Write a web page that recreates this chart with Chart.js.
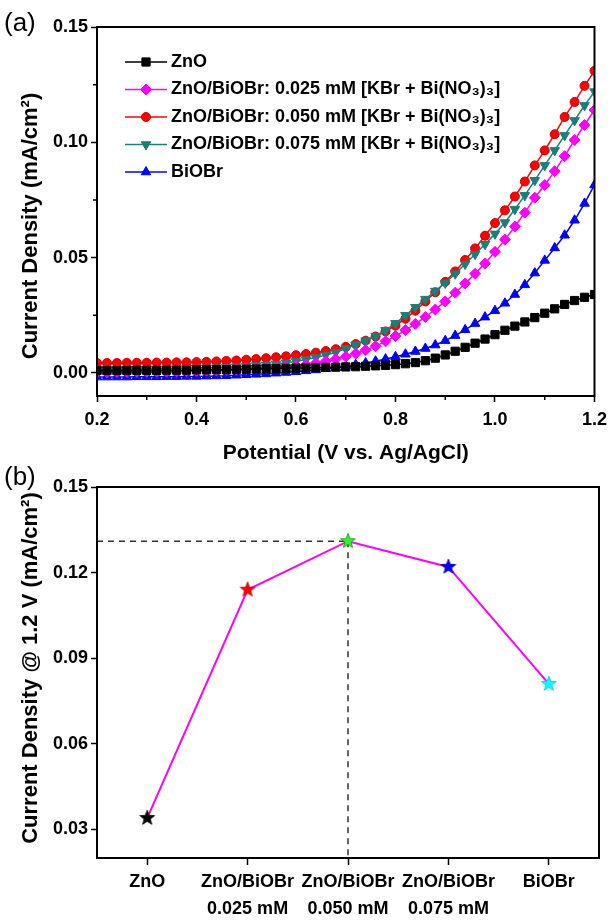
<!DOCTYPE html>
<html>
<head>
<meta charset="utf-8">
<script src="https://cdn.jsdelivr.net/npm/chart.js@4.4.1/dist/chart.umd.min.js"></script>
<style>
  html, body { margin: 0; padding: 0; background: #fff; }
  #chartA { position: absolute; left: 0; top: 0; }
  #chartB { position: absolute; left: 0; top: 466px; }
</style>
</head>
<body>
<canvas id="chartA" width="614" height="466"></canvas>
<canvas id="chartB" width="614" height="454"></canvas>
<script>
// ───────── panel (a): LSV curves ─────────
const potential = [0.20, 0.22, 0.24, 0.26, 0.28, 0.30, 0.32, 0.34, 0.36, 0.38,
  0.40, 0.42, 0.44, 0.46, 0.48, 0.50, 0.52, 0.54, 0.56, 0.58,
  0.60, 0.62, 0.64, 0.66, 0.68, 0.70, 0.72, 0.74, 0.76, 0.78,
  0.80, 0.82, 0.84, 0.86, 0.88, 0.90, 0.92, 0.94, 0.96, 0.98,
  1.00, 1.02, 1.04, 1.06, 1.08, 1.10, 1.12, 1.14, 1.16, 1.18, 1.20];

const znoCurve = [0.0010, 0.0010, 0.0010, 0.0010, 0.0011, 0.0011, 0.0011, 0.0012, 0.0012, 0.0012,
  0.0013, 0.0013, 0.0014, 0.0014, 0.0015, 0.0016, 0.0017, 0.0018, 0.0019, 0.0020,
  0.0021, 0.0022, 0.0023, 0.0024, 0.0025, 0.0026, 0.0027, 0.0029, 0.0031, 0.0033,
  0.0036, 0.0040, 0.0045, 0.0053, 0.0064, 0.0078, 0.0094, 0.0111, 0.0129, 0.0147,
  0.0166, 0.0185, 0.0203, 0.0221, 0.0240, 0.0259, 0.0278, 0.0297, 0.0314, 0.0328, 0.0340];

const bi025Curve = [0.0003, 0.0003, 0.0004, 0.0004, 0.0005, 0.0005, 0.0006, 0.0006, 0.0007, 0.0008,
  0.0009, 0.0010, 0.0011, 0.0013, 0.0015, 0.0017, 0.0019, 0.0021, 0.0024, 0.0027,
  0.0031, 0.0036, 0.0043, 0.0051, 0.0060, 0.0071, 0.0084, 0.0099, 0.0116, 0.0137,
  0.0160, 0.0186, 0.0213, 0.0243, 0.0275, 0.0310, 0.0348, 0.0388, 0.0430, 0.0475,
  0.0525, 0.0578, 0.0635, 0.0695, 0.0760, 0.0815, 0.0875, 0.0940, 0.1010, 0.1075, 0.1140];

const bi050Curve = [0.0043, 0.0043, 0.0043, 0.0044, 0.0044, 0.0044, 0.0045, 0.0045, 0.0046, 0.0046,
  0.0047, 0.0048, 0.0050, 0.0052, 0.0054, 0.0057, 0.0060, 0.0064, 0.0068, 0.0072,
  0.0077, 0.0082, 0.0088, 0.0095, 0.0103, 0.0113, 0.0125, 0.0140, 0.0158, 0.0180,
  0.0205, 0.0235, 0.0270, 0.0310, 0.0350, 0.0395, 0.0440, 0.0490, 0.0540, 0.0595,
  0.0650, 0.0705, 0.0765, 0.0830, 0.0900, 0.0965, 0.1035, 0.1110, 0.1175, 0.1245, 0.1310];

const bi075Curve = [0.0015, 0.0015, 0.0015, 0.0016, 0.0016, 0.0017, 0.0017, 0.0018, 0.0019, 0.0020,
  0.0021, 0.0022, 0.0023, 0.0025, 0.0027, 0.0029, 0.0032, 0.0035, 0.0039, 0.0044,
  0.0050, 0.0058, 0.0067, 0.0078, 0.0090, 0.0106, 0.0122, 0.0140, 0.0160, 0.0185,
  0.0215, 0.0250, 0.0285, 0.0320, 0.0355, 0.0390, 0.0430, 0.0472, 0.0515, 0.0558,
  0.0603, 0.0652, 0.0710, 0.0770, 0.0835, 0.0900, 0.0965, 0.1030, 0.1095, 0.1160, 0.1220];

const biobrCurve = [-0.0018, -0.0018, -0.0018, -0.0018, -0.0017, -0.0017, -0.0017, -0.0016, -0.0016, -0.0015,
  -0.0015, -0.0014, -0.0013, -0.0012, -0.0010, -0.0008, -0.0006, -0.0004, -0.0001, 0.0002,
  0.0005, 0.0009, 0.0013, 0.0018, 0.0023, 0.0029, 0.0036, 0.0043, 0.0051, 0.0060,
  0.0070, 0.0081, 0.0093, 0.0106, 0.0121, 0.0140, 0.0162, 0.0187, 0.0214, 0.0242,
  0.0270, 0.0302, 0.0340, 0.0382, 0.0433, 0.0488, 0.0542, 0.0597, 0.0662, 0.0735, 0.0815];

const seriesNames = [
  'ZnO',
  'ZnO/BiOBr: 0.025 mM [KBr + Bi(NO₃)₃]',
  'ZnO/BiOBr: 0.050 mM [KBr + Bi(NO₃)₃]',
  'ZnO/BiOBr: 0.075 mM [KBr + Bi(NO₃)₃]',
  'BiOBr'
];
const xTicksA = [0.2, 0.4, 0.6, 0.8, 1.0, 1.2];
const yTicksA = [0.00, 0.05, 0.10, 0.15];

// ───────── panel (b): current density @ 1.2 V ─────────
const samples = [['ZnO'], ['ZnO/BiOBr', '0.025 mM'], ['ZnO/BiOBr', '0.050 mM'], ['ZnO/BiOBr', '0.075 mM'], ['BiOBr']];
const jAt12 = [0.034, 0.114, 0.131, 0.122, 0.081];
const yTicksB = [0.03, 0.06, 0.09, 0.12, 0.15];

// ───────── helpers ─────────
const FONT = "'Liberation Sans', Arial, Helvetica, sans-serif";
const tickFont = { family: FONT, size: 18, weight: 'bold' };
const titleFont = { family: FONT, size: 21, weight: 'bold' };

const toXY = arr => arr.map((v, i) => ({ x: potential[i], y: v }));
const midpoints = arr => arr.slice(1).map((v, i) => (v + arr[i]) / 2);

// box round the plot area + short minor ticks
function frame(minorX, minorY) {
  return {
    id: 'frame',
    afterDraw(chart) {
      const { ctx, chartArea: a, scales } = chart;
      ctx.save();
      ctx.strokeStyle = '#000';
      ctx.lineWidth = 1.5;
      ctx.beginPath();
      minorX.forEach(v => {
        const px = scales.x.getPixelForValue(v);
        ctx.moveTo(px, a.bottom); ctx.lineTo(px, a.bottom + 4);
      });
      minorY.forEach(v => {
        const py = scales.y.getPixelForValue(v);
        ctx.moveTo(a.left, py); ctx.lineTo(a.left - 4, py);
      });
      ctx.stroke();
      ctx.lineWidth = 2;
      ctx.strokeRect(a.left, a.top, a.right - a.left, a.bottom - a.top);
      ctx.restore();
    }
  };
}

function panelTag(text, y) {
  return {
    id: 'tag',
    afterDraw(chart) {
      const ctx = chart.ctx;
      ctx.save();
      ctx.font = '26px ' + FONT;
      ctx.fillStyle = '#000';
      ctx.textBaseline = 'middle';
      ctx.fillText(text, 4, y);
      ctx.restore();
    }
  };
}

// rotated y title, placed where the original has it
function yTitle(text, x, cy) {
  return {
    id: 'ytitle',
    afterDraw(chart) {
      const ctx = chart.ctx;
      ctx.save();
      ctx.translate(x, cy);
      ctx.rotate(-Math.PI / 2);
      ctx.font = 'bold 22px ' + FONT;
      ctx.fillStyle = '#000';
      ctx.textAlign = 'center';
      ctx.textBaseline = 'middle';
      ctx.fillText(text, 0, 0);
      ctx.restore();
    }
  };
}

// legend drawn inside the plot, one entry per row
const legendA = {
  id: 'legendA',
  afterDatasetsDraw(chart) {
    const ctx = chart.ctx;
    ctx.save();
    ctx.font = 'bold 18px ' + FONT;
    ctx.textBaseline = 'middle';
    chart.data.datasets.forEach((ds, i) => {
      const y = 62 + i * 27.5;
      ctx.strokeStyle = ds.borderColor;
      ctx.lineWidth = 1.5;
      ctx.beginPath(); ctx.moveTo(125, y); ctx.lineTo(167, y); ctx.stroke();
      ctx.fillStyle = ds.pointBackgroundColor;
      ctx.strokeStyle = ds.pointBorderColor;
      ctx.lineWidth = 1;
      Chart.helpers.drawPoint(ctx, {
        pointStyle: ds.pointStyle, radius: ds.pointRadius,
        rotation: ds.pointRotation || 0, borderWidth: 1
      }, 146, y);
      ctx.fillStyle = '#000';
      ctx.fillText(ds.label, 171, y);
    });
    ctx.restore();
  }
};

function curve(idx, data, color, style, radius, extra) {
  return Object.assign({
    label: seriesNames[idx],
    data: toXY(data),
    borderColor: color,
    backgroundColor: color,
    pointBackgroundColor: color,
    pointBorderColor: color,
    pointStyle: style,
    pointRadius: radius,
    pointBorderWidth: 1,
    borderWidth: 1.5,
    tension: 0
  }, extra || {});
}

// ───────── chart (a) ─────────
new Chart(document.getElementById('chartA'), {
  type: 'line',
  data: {
    datasets: [
      curve(0, znoCurve, '#000000', 'rect', 5.8, { order: 0 }),
      curve(1, bi025Curve, '#ff00ff', 'rectRot', 5.5, { order: 1 }),
      curve(2, bi050Curve, '#ff0000', 'circle', 4.5, { order: 3, pointBorderColor: '#d00000' }),
      curve(3, bi075Curve, '#1a7f78', 'triangle', 5.5, { order: 2, pointRotation: 180 }),
      curve(4, biobrCurve, '#0000ff', 'triangle', 5.5, { order: 4 })
    ]
  },
  options: {
    responsive: false,
    animation: false,
    layout: { padding: { top: 27, right: 16, left: 0, bottom: 0 } },
    plugins: { legend: { display: false }, tooltip: { enabled: false } },
    scales: {
      x: {
        type: 'linear', min: 0.2, max: 1.2,
        afterBuildTicks: s => { s.ticks = xTicksA.map(v => ({ value: v })); },
        afterFit: s => { s.height = 70; },
        border: { display: false },
        grid: { drawOnChartArea: false, drawTicks: true, tickLength: 6, tickWidth: 1.5, tickColor: '#000' },
        ticks: {
          color: '#000', font: tickFont, padding: 7, maxRotation: 0, autoSkip: false,
          callback: v => v.toFixed(1)
        },
        title: {
          display: true, text: 'Potential (V vs. Ag/AgCl)', color: '#000',
          font: titleFont, padding: { top: 0, bottom: 0 }
        }
      },
      y: {
        min: -0.01, max: 0.15,
        afterBuildTicks: s => { s.ticks = yTicksA.map(v => ({ value: v })); },
        afterFit: s => { s.width = 97; },
        border: { display: false },
        grid: { drawOnChartArea: false, drawTicks: true, tickLength: 6, tickWidth: 1.5, tickColor: '#000' },
        ticks: { color: '#000', font: tickFont, padding: 3, callback: v => v.toFixed(2) }
      }
    }
  },
  plugins: [frame(midpoints(xTicksA), midpoints(yTicksA)), legendA, panelTag('(a)', 24),
    yTitle('Current Density (mA/cm²)', 31, 226)]
});

// ───────── chart (b) ─────────
function starSprite(fill, stroke) {
  const c = document.createElement('canvas');
  c.width = c.height = 18;
  const g = c.getContext('2d');
  g.beginPath();
  for (let k = 0; k < 10; k++) {
    const r = k % 2 ? 3.3 : 7.8;
    const ang = -Math.PI / 2 + k * Math.PI / 5;
    g.lineTo(9 + r * Math.cos(ang), 9 + r * Math.sin(ang));
  }
  g.closePath();
  g.fillStyle = fill;
  g.fill();
  g.lineWidth = 0.8;
  g.strokeStyle = stroke;
  g.stroke();
  return c;
}
const stars = [
  starSprite('#000000', '#000000'),
  starSprite('#ff0000', '#cc0000'),
  starSprite('#33ee33', '#119911'),
  starSprite('#0000ff', '#0000aa'),
  starSprite('#00ffff', '#00cccc')
];

const guides = {
  id: 'guides',
  beforeDatasetsDraw(chart) {
    const { ctx, chartArea: a, scales: { x, y } } = chart;
    const peak = jAt12.indexOf(Math.max(...jAt12));
    const px = x.getPixelForValue(peak);
    const py = y.getPixelForValue(jAt12[peak]);
    ctx.save();
    ctx.setLineDash([6, 5]);
    ctx.lineWidth = 1.5;
    ctx.strokeStyle = '#333';
    ctx.beginPath();
    ctx.moveTo(a.left, py); ctx.lineTo(px, py);
    ctx.moveTo(px, py); ctx.lineTo(px, a.bottom);
    ctx.stroke();
    ctx.restore();
  }
};

new Chart(document.getElementById('chartB'), {
  type: 'line',
  data: {
    labels: samples,
    datasets: [{
      data: jAt12,
      borderColor: '#ff00ff',
      borderWidth: 2,
      pointStyle: stars,
      pointRadius: 8,
      tension: 0
    }]
  },
  options: {
    responsive: false,
    animation: false,
    layout: { padding: { top: 21, right: 15, left: 0, bottom: 0 } },
    plugins: { legend: { display: false }, tooltip: { enabled: false } },
    scales: {
      x: {
        type: 'category', offset: true,
        afterFit: s => { s.height = 62; },
        border: { display: false },
        grid: { drawOnChartArea: false, drawTicks: true, tickLength: 7, tickWidth: 1.5, tickColor: '#000', offset: false },
        ticks: {
          color: '#000', font: Object.assign({}, tickFont, { lineHeight: 1.5 }),
          padding: 4, maxRotation: 0, autoSkip: false
        }
      },
      y: {
        min: 0.02, max: 0.15,
        afterBuildTicks: s => { s.ticks = yTicksB.map(v => ({ value: v })); },
        afterFit: s => { s.width = 97; },
        border: { display: false },
        grid: { drawOnChartArea: false, drawTicks: true, tickLength: 6, tickWidth: 1.5, tickColor: '#000' },
        ticks: { color: '#000', font: tickFont, padding: 3, callback: v => v.toFixed(2) }
      }
    }
  },
  plugins: [guides, frame([], []), panelTag('(b)', 12),
    yTitle('Current Density @ 1.2 V (mA/cm²)', 31, 202)]
});
</script>
</body>
</html>
